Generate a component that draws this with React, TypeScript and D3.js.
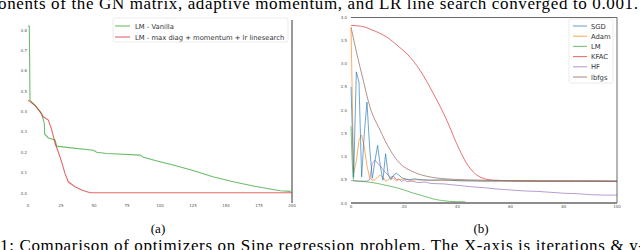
import * as d3 from 'd3'

// (a) iterations vs loss
const vanillaX = [0, 1, 1.5, 6.6, 10.3, 12.4, 12.6, 15.4, 20.5, 21.7, 29.3, 49.5, 52, 59.6, 85, 87.4, 100, 110, 125, 140, 155.5, 170.7, 191, 199]
const vanillaY = [0.82, 0.82, 0.456, 0.42, 0.39, 0.34, 0.29, 0.27, 0.26, 0.23, 0.224, 0.21, 0.2, 0.194, 0.186, 0.175, 0.153, 0.137, 0.11, 0.08, 0.055, 0.034, 0.011, 0.008]
const tunedX = [0, 5.3, 9, 11.6, 15.4, 18, 20.5, 23, 25.5, 28, 30.5, 35.6, 40.7, 47, 200]
const tunedY = [0.456, 0.43, 0.4, 0.374, 0.358, 0.31, 0.244, 0.2, 0.153, 0.096, 0.055, 0.031, 0.015, 0.0015, 0.001]
const legendA = ['LM - Vanilla', 'LM - max diag +  momentum + lr linesearch']

// (b) optimizers
const sgdX = [0, 1, 2, 3, 4, 5, 6, 7, 8, 9, 10, 11, 12, 13, 14, 15, 16, 17, 18, 19, 20, 22, 24, 26, 30, 35, 40, 50, 100]
const sgdY = [2.5, 0.55, 2.82, 2.6, 0.56, 1.5, 2.17, 1.2, 0.53, 0.9, 1.24, 0.8, 0.49, 1.06, 0.6, 0.5, 0.6, 0.64, 0.6, 0.55, 0.52, 0.5, 0.52, 0.5, 0.49, 0.5, 0.48, 0.47, 0.47]
const adamX = [0, 1, 2, 3, 4, 5, 6, 7, 8, 9, 10, 11, 12, 13, 14, 15, 16, 17, 18, 20, 22, 25, 30, 40, 100]
const adamY = [3.78, 0.64, 0.9, 1.35, 1.46, 1.2, 0.8, 0.55, 0.49, 0.5, 0.56, 0.6, 0.55, 0.47, 0.5, 0.55, 0.53, 0.48, 0.5, 0.52, 0.49, 0.5, 0.49, 0.48, 0.47]
const lmX = [0, 1, 5, 10, 14, 17, 20, 23, 26, 29, 31, 34, 37, 40, 43]
const lmY = [1.65, 0.48, 0.46, 0.42, 0.37, 0.33, 0.28, 0.22, 0.17, 0.12, 0.086, 0.055, 0.035, 0.028, 0.025]
const kfacX = [0, 4, 8, 13.4, 18, 21, 26, 31, 36, 39.7, 43.5, 48.5, 53.5, 60, 70, 80, 90, 100]
const kfacY = [3.82, 3.8, 3.72, 3.57, 3.36, 3.21, 2.85, 2.35, 1.78, 1.28, 0.85, 0.56, 0.49, 0.48, 0.47, 0.47, 0.47, 0.46]
const hfX = [0, 3, 6, 7, 8, 9, 10, 11, 12, 13, 14, 15, 16, 17, 18, 19, 20, 21, 23, 25, 28, 30, 35, 40, 45, 50, 55, 60, 65, 70, 75, 80, 85, 90, 95, 100]
const hfY = [0.48, 0.47, 0.47, 0.5, 0.85, 0.92, 0.85, 0.8, 0.72, 0.65, 0.6, 0.55, 0.58, 0.5, 0.52, 0.46, 0.5, 0.46, 0.47, 0.44, 0.45, 0.42, 0.41, 0.38, 0.35, 0.33, 0.3, 0.28, 0.26, 0.25, 0.23, 0.21, 0.2, 0.18, 0.17, 0.17]
const lbfgsX = [0, 2.2, 4.6, 7.1, 10.9, 14.7, 18.4, 23.4, 29.7, 38.3, 50, 60, 100]
const lbfgsY = [3.78, 3.21, 2.64, 2.07, 1.57, 1.14, 0.85, 0.67, 0.56, 0.51, 0.49, 0.48, 0.47]
const legendB = ['SGD', 'Adam', 'LM', 'KFAC', 'HF', 'lbfgs']
const tab = ['#1f77b4', '#ff7f0e', '#2ca02c', '#d62728', '#9467bd', '#8c564b']
const smooth = [false, false, true, true, false, true]

const ticksA_Y = [0, 0.1, 0.2, 0.3, 0.4, 0.5, 0.6, 0.7, 0.8]
const ticksA_X = [0, 25, 50, 75, 100, 125, 150, 175, 200]
const ticksB_Y = [0, 0.5, 1, 1.5, 2, 2.5, 3, 3.5, 4]
const ticksB_X = [0, 20, 40, 60, 80, 100]

const zip = (xs: number[], ys: number[]) => xs.map((x, i) => [x, ys[i]] as [number, number])

export default function App() {
  const xa = d3.scaleLinear().domain([0, 200]).range([28, 292])
  const ya = d3.scaleLinear().domain([0, 0.8]).range([193, 30])
  const xb = d3.scaleLinear().domain([0, 100]).range([351, 617])
  const yb = d3.scaleLinear().domain([0, 4]).range([203, 17])

  const lineA = d3.line<[number, number]>().x(d => xa(d[0])).y(d => ya(d[1]))
  const lineB = d3.line<[number, number]>().x(d => xb(d[0])).y(d => yb(d[1]))
  const lineBs = d3.line<[number, number]>().x(d => xb(d[0])).y(d => yb(d[1])).curve(d3.curveMonotoneX)

  const seriesB = [
    zip(sgdX, sgdY), zip(adamX, adamY), zip(lmX, lmY),
    zip(kfacX, kfacY), zip(hfX, hfY), zip(lbfgsX, lbfgsY),
  ]
  const drawOrder = [3, 5, 4, 1, 0, 2]
  const fmt = d3.format('.1f')
  const tickFont = { fontFamily: 'DejaVu Sans', fontSize: 4, fill: '#555' }

  return (
    <svg width={640} height={250} style={{ position: 'absolute', left: 0, top: 0, background: '#fff' }}>
      <text x={-2} y={9} fontFamily="Liberation Serif" fontSize={17} textLength={640} lengthAdjust="spacing">
        onents of the GN matrix, adaptive momentum, and LR line search converged to 0.001.
      </text>

      {/* (a) */}
      {ticksA_Y.map(t => (
        <text key={'ay' + t} x={27} y={ya(t) + 1.5} textAnchor="end" {...tickFont}>{fmt(t)}</text>
      ))}
      {ticksA_X.map(t => (
        <text key={'ax' + t} x={xa(t)} y={207} textAnchor="middle" {...tickFont}>{t}</text>
      ))}
      <line x1={292} x2={292} y1={20} y2={203} stroke="#999" strokeWidth={2} />
      <path d={lineA(zip(vanillaX, vanillaY)) ?? ''} fill="none" stroke={tab[2]} strokeOpacity={0.7} strokeWidth={1.1} />
      <path d={lineA(zip(tunedX, tunedY)) ?? ''} fill="none" stroke={tab[3]} strokeOpacity={0.7} strokeWidth={1.1} />
      <rect x={113} y={18} width={175} height={24} rx={2} fill="#fff" fillOpacity={0.85} stroke="#ddd" strokeWidth={0.6} />
      {legendA.map((s, i) => (
        <g key={s}>
          <line x1={115} x2={130} y1={26 + i * 11} y2={26 + i * 11} stroke={tab[2 + i]} strokeOpacity={0.7} strokeWidth={1.1} />
          <text x={135} y={28.5 + i * 11} fontFamily="DejaVu Sans" fontSize={6.8} fill="#333">{s}</text>
        </g>
      ))}
      <text x={158} y={233} textAnchor="middle" fontFamily="Liberation Serif" fontSize={13}>(a)</text>

      {/* (b) */}
      {ticksB_Y.map(t => (
        <text key={'by' + t} x={347} y={yb(t) + 1.5} textAnchor="end" {...tickFont}>{fmt(t)}</text>
      ))}
      {ticksB_X.map(t => (
        <text key={'bx' + t} x={xb(t)} y={208} textAnchor="middle" {...tickFont}>{t}</text>
      ))}
      {drawOrder.map(i => (
        <path key={legendB[i]} d={(smooth[i] ? lineBs : lineB)(seriesB[i]) ?? ''} fill="none" stroke={tab[i]} strokeOpacity={0.65} strokeWidth={1} />
      ))}
      <line x1={351} x2={617} y1={17.5} y2={17.5} stroke="#444" strokeWidth={0.8} />
      <line x1={617} x2={617} y1={17.5} y2={203} stroke="#444" strokeWidth={0.8} />
      <line x1={351} x2={617} y1={203} y2={203} stroke="#666" strokeWidth={1.3} />
      <rect x={569} y={19} width={44} height={64} rx={2} fill="#fff" fillOpacity={0.85} stroke="#ddd" strokeWidth={0.6} />
      {legendB.map((s, i) => (
        <g key={s}>
          <line x1={573} x2={587} y1={26 + i * 10.2} y2={26 + i * 10.2} stroke={tab[i]} strokeOpacity={0.65} strokeWidth={1.1} />
          <text x={591} y={28.5 + i * 10.2} fontFamily="DejaVu Sans" fontSize={6.8} fill="#333">{s}</text>
        </g>
      ))}
      <text x={481} y={233} textAnchor="middle" fontFamily="Liberation Serif" fontSize={13}>(b)</text>

      <text x={0} y={251} fontFamily="Liberation Serif" fontSize={17} textLength={644} lengthAdjust="spacing">
        1: Comparison of optimizers on Sine regression problem. The X-axis is iterations &amp; y-
      </text>
    </svg>
  )
}
